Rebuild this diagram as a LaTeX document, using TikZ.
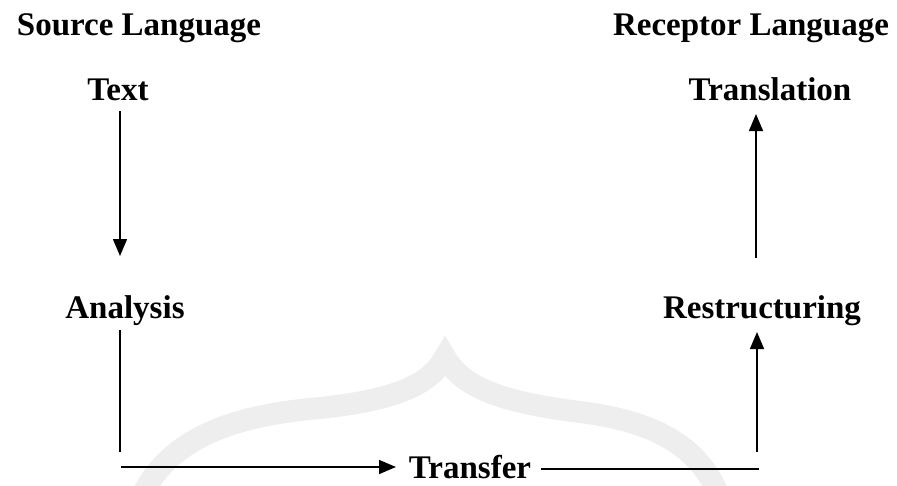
\documentclass[tikz,border=0pt]{standalone}
\usepackage{fontspec}
\setmainfont{Liberation Serif}
\usetikzlibrary{arrows.meta}
\definecolor{wmark}{RGB}{238,238,238}
\begin{document}
\begin{tikzpicture}[x=1pt,y=-1pt,
  lbl/.style={inner sep=0pt,anchor=base,font=\fontsize{33}{40}\selectfont\bfseries},
  arr/.style={line width=1.5pt,-{Triangle[length=17pt,width=14pt]}},
  plain/.style={line width=1.5pt}]
\useasboundingbox (0,0) rectangle (897,485);
% faint watermark
\draw[wmark,line width=22pt,line cap=round]
  (138,505) .. controls (165,435) and (240,415) .. (320,408)
  .. controls (395,400) and (430,385) .. (445,357)
  .. controls (462,387) and (500,402) .. (580,412)
  .. controls (660,422) and (705,450) .. (722,505);
% labels
\node[lbl] (src) at (139,35) {Source Language};
\node[lbl] (rec) at (751,35) {Receptor Language};
\node[lbl] (text) at (118,100) {Text};
\node[lbl] (trans) at (770,100) {Translation};
\node[lbl] (ana) at (125,318) {Analysis};
\node[lbl] (restr) at (762,318) {Restructuring};
\node[lbl] (transfer) at (470,478) {Transfer};
% connector points
\coordinate (a1) at (120,111);
\coordinate (a2) at (120,256);
\coordinate (b1) at (120,330);
\coordinate (b2) at (120,452);
\coordinate (c1) at (121,467);
\coordinate (c2) at (396,467);
\coordinate (f1) at (541,469);
\coordinate (f2) at (759,469);
\coordinate (d1) at (757,452);
\coordinate (d2) at (757,332);
\coordinate (e1) at (756,258);
\coordinate (e2) at (756,114);
% connectors
\draw[arr] (a1) -- (a2);
\draw[plain] (b1) -- (b2);
\draw[arr] (c1) -- (c2);
\draw[plain] (f1) -- (f2);
\draw[arr] (d1) -- (d2);
\draw[arr] (e1) -- (e2);
\end{tikzpicture}
\end{document}
